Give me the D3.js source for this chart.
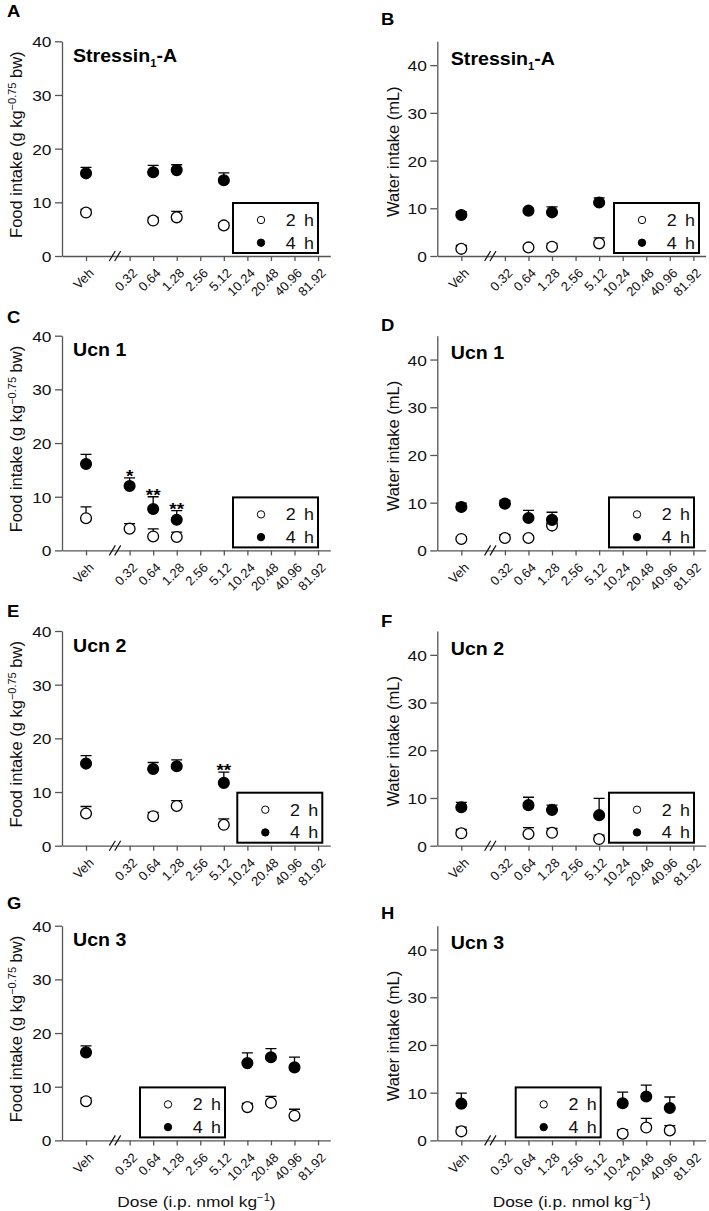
<!DOCTYPE html>
<html>
<head>
<meta charset="utf-8">
<script src="https://cdn.jsdelivr.net/npm/d3@7"></script>
<style>
  body { margin: 0; background: #fff; }
  svg  { display: block; font-family: "Liberation Sans", Arial, sans-serif; }
</style>
</head>
<body>
<div id="chart"></div>
<script>
// Dose axis (i.p. nmol/kg), same for every panel
const doseTicks = ["Veh","0.32","0.64","1.28","2.56","5.12","10.24","20.48","40.96","81.92"];
const yTicks = [0, 10, 20, 30, 40];

// Stressin1-A
const s1Doses       = ["Veh","0.64","1.28","5.12"];
const s1Food2h      = [8.1, 6.6, 7.2, 5.7];
const s1Food2hErr   = [0.6, 0.6, 1.1, 0.5];
const s1Food4h      = [15.4, 15.6, 16.0, 14.1];
const s1Food4hErr   = [1.1, 1.3, 1.0, 1.4];
const s1Water2h     = [1.5, 1.8, 1.95, 2.65];
const s1Water2hErr  = [0.7, 0.5, 0.7, 1.15];
const s1Water4h     = [8.6, 9.5, 9.15, 11.2];
const s1Water4hErr  = [0.7, 0.5, 1.15, 1.0];

// Ucn 1
const u1Doses       = ["Veh","0.32","0.64","1.28"];
const u1Food2h      = [6.0, 4.05, 2.6, 2.5];
const u1Food2hErr   = [2.1, 0.95, 1.4, 0.9];
const u1Food4h      = [16.1, 12.0, 7.7, 5.7];
const u1Food4hErr   = [1.8, 1.5, 2.3, 1.7];
const u1Food4hSig   = ["", "*", "**", "**"];
const u1Water2h     = [2.4, 2.6, 2.6, 5.2];
const u1Water2hErr  = [0.5, 0.7, 0.5, 0.6];
const u1Water4h     = [9.1, 9.8, 6.8, 6.4];
const u1Water4hErr  = [0.8, 0.7, 1.6, 1.6];

// Ucn 2
const u2Doses       = ["Veh","0.64","1.28","5.12"];
const u2Food2h      = [6.0, 5.5, 7.4, 3.9];
const u2Food2hErr   = [1.3, 0.7, 1.0, 1.1];
const u2Food4h      = [15.3, 14.3, 14.8, 11.7];
const u2Food4hErr   = [1.5, 1.2, 1.2, 2.0];
const u2Food4hSig   = ["", "", "", "**"];
const u2Water2h     = [2.6, 2.45, 2.7, 1.4];
const u2Water2hErr  = [0.8, 1.35, 0.9, 0.8];
const u2Water4h     = [8.05, 8.5, 7.5, 6.4];
const u2Water4hErr  = [1.05, 1.65, 1.0, 3.5];

// Ucn 3
const u3Doses       = ["Veh","10.24","20.48","40.96"];
const u3Food2h      = [7.3, 6.2, 7.0, 4.6];
const u3Food2hErr   = [0.6, 0.7, 1.2, 1.2];
const u3Food4h      = [16.4, 14.4, 15.5, 13.6];
const u3Food4hErr   = [1.2, 1.9, 1.6, 1.9];
const u3Water2h     = [1.9, 1.4, 2.7, 2.1];
const u3Water2hErr  = [0.9, 0.8, 1.9, 1.0];
const u3Water4h     = [7.7, 7.8, 9.2, 6.8];
const u3Water4hErr  = [2.2, 2.3, 2.4, 2.3];

const W = 709, H = 1211;
const COL_X = [62, 437.3];                 // y-axis position per column
const ROW_BOTTOM = [256, 550.4, 845.7, 1140.4];
const PLOT_W = 268.3, PLOT_H = 214.7;
const SX = 1.12;                            // the original type is a bit wide
const BREAK_POS = 1.23;
const AXIS_COL = "#555", TEXT_COL = "#111";

const panels = [
  {id:"A", col:0, row:0, measure:"food",  name:"Stressin1-A", doses:s1Doses, m2:s1Food2h,  e2:s1Food2hErr,  m4:s1Food4h,  e4:s1Food4hErr,  sig:null,        legendX:171,   letterY:17},
  {id:"B", col:1, row:0, measure:"water", name:"Stressin1-A", doses:s1Doses, m2:s1Water2h, e2:s1Water2hErr, m4:s1Water4h, e4:s1Water4hErr, sig:null,        legendX:176.7, letterY:25},
  {id:"C", col:0, row:1, measure:"food",  name:"Ucn 1",       doses:u1Doses, m2:u1Food2h,  e2:u1Food2hErr,  m4:u1Food4h,  e4:u1Food4hErr,  sig:u1Food4hSig, legendX:171,   letterY:323},
  {id:"D", col:1, row:1, measure:"water", name:"Ucn 1",       doses:u1Doses, m2:u1Water2h, e2:u1Water2hErr, m4:u1Water4h, e4:u1Water4hErr, sig:null,        legendX:171.7, letterY:331},
  {id:"E", col:0, row:2, measure:"food",  name:"Ucn 2",       doses:u2Doses, m2:u2Food2h,  e2:u2Food2hErr,  m4:u2Food4h,  e4:u2Food4hErr,  sig:u2Food4hSig, legendX:175.3, letterY:617},
  {id:"F", col:1, row:2, measure:"water", name:"Ucn 2",       doses:u2Doses, m2:u2Water2h, e2:u2Water2hErr, m4:u2Water4h, e4:u2Water4hErr, sig:null,        legendX:171.7, letterY:627},
  {id:"G", col:0, row:3, measure:"food",  name:"Ucn 3",       doses:u3Doses, m2:u3Food2h,  e2:u3Food2hErr,  m4:u3Food4h,  e4:u3Food4hErr,  sig:null,        legendX:78,    letterY:909},
  {id:"H", col:1, row:3, measure:"water", name:"Ucn 3",       doses:u3Doses, m2:u3Water2h, e2:u3Water2hErr, m4:u3Water4h, e4:u3Water4hErr, sig:null,        legendX:78.4,  letterY:919}
];

const svg = d3.select("#chart").append("svg").attr("width", W).attr("height", H).attr("viewBox", [0, 0, W, H]);

// Veh sits on its own, doses start after the axis break
const x = d3.scaleLinear().domain([-1.02, 10.37]).range([0, PLOT_W]);
function dosePos(i) { return i === 0 ? 0 : 0.85 + i; }

function styleAxis(sel) {
  sel.attr("font-family", null).attr("font-size", null);
  sel.selectAll(".domain, .tick line").attr("stroke", AXIS_COL).attr("stroke-width", 1.3);
  sel.selectAll(".tick text").attr("fill", TEXT_COL);
}

function wideText(parent, tx, ty, anchor) {
  return parent.append("text")
    .attr("transform", `translate(${tx},${ty}) scale(${SX},1)`)
    .attr("text-anchor", anchor)
    .attr("fill", TEXT_COL);
}

function drawPanel(p) {
  const ox = COL_X[p.col], y0 = ROW_BOTTOM[p.row];
  const g = svg.append("g").attr("transform", `translate(${ox},0)`);
  const y = d3.scaleLinear().domain([0, p.measure === "food" ? 40 : 45]).range([y0, y0 - PLOT_H]);

  // y axis
  const ya = g.append("g")
    .call(d3.axisLeft(y).tickValues(yTicks).tickSize(7).tickSizeOuter(0).tickPadding(3.5));
  styleAxis(ya);
  ya.selectAll(".tick text").attr("x", 0).attr("dy", "0.36em").attr("font-size", 15.5)
    .attr("transform", `translate(-10.5,0) scale(${SX},1)`);

  // x axis with rotated dose labels
  const xa = g.append("g").attr("transform", `translate(0,${y0})`)
    .call(d3.axisBottom(x).tickValues(doseTicks.map((d, i) => dosePos(i)))
      .tickFormat((d, i) => doseTicks[i]).tickSize(5).tickSizeOuter(0));
  styleAxis(xa);
  xa.selectAll(".tick text").attr("y", 0).attr("dy", 0).attr("font-size", 13)
    .attr("text-anchor", "end").attr("transform", "translate(8,18) rotate(-45)");

  // axis break
  const bx = x(BREAK_POS);
  [-2.7, 2.7].forEach(off => {
    g.append("line")
      .attr("x1", bx + off - 3).attr("y1", y0 + 5)
      .attr("x2", bx + off + 3).attr("y2", y0 - 5)
      .attr("stroke", TEXT_COL).attr("stroke-width", 1.2);
  });

  // y label
  const mid = y0 - PLOT_H / 2;
  if (p.measure === "food") {
    const t = g.append("text").attr("transform", `translate(-40,${mid - 4}) rotate(-90)`)
      .attr("text-anchor", "middle").attr("font-size", 16.5).attr("fill", TEXT_COL);
    t.append("tspan").text("Food intake (g kg");
    t.append("tspan").attr("font-size", 11).attr("dy", -6).text("\u22120.75");
    t.append("tspan").attr("dy", 6).text(" bw)");
  } else {
    g.append("text").attr("transform", `translate(-38.3,${mid + 3}) rotate(-90)`)
      .attr("text-anchor", "middle").attr("font-size", 16.5).attr("fill", TEXT_COL)
      .text("Water intake (mL)");
  }

  // 2 h (open) then 4 h (filled); whisker goes up only
  const series = [
    {m: p.m2, e: p.e2, fill: "#fff", sig: null},
    {m: p.m4, e: p.e4, fill: "#000", sig: p.sig}
  ];
  series.forEach(s => {
    const pts = p.doses.map((d, i) => ({cx: x(dosePos(doseTicks.indexOf(d))), m: s.m[i], e: s.e[i], sig: s.sig ? s.sig[i] : ""}));
    g.append("g").selectAll("path").data(pts).join("path")
      .attr("d", d => `M${d.cx},${y(d.m)}V${y(d.m + d.e)}M${d.cx - 5.5},${y(d.m + d.e)}H${d.cx + 5.5}`)
      .attr("fill", "none").attr("stroke", "#000").attr("stroke-width", 1.3);
    g.append("g").selectAll("circle").data(pts).join("circle")
      .attr("cx", d => d.cx).attr("cy", d => y(d.m)).attr("r", 5.4)
      .attr("fill", s.fill).attr("stroke", "#000").attr("stroke-width", 1.3);
    pts.filter(d => d.sig).forEach(d => {
      wideText(g, d.cx, y(d.m + d.e) + 4, "middle")
        .attr("font-size", 17).attr("font-weight", "bold").attr("fill", "#000").text(d.sig);
    });
  });

  // legend
  const lx = p.legendX, ly = y0 - 53;
  g.append("rect").attr("x", lx).attr("y", ly).attr("width", 85).attr("height", 50)
    .attr("fill", "#fff").attr("stroke", "#000").attr("stroke-width", 2);
  [["2 h", "#fff", 17, 23], ["4 h", "#000", 39.7, 45.5]].forEach(([lab, fill, cy, by]) => {
    g.append("circle").attr("cx", lx + 28).attr("cy", ly + cy).attr("r", 3.7)
      .attr("fill", fill).attr("stroke", "#000").attr("stroke-width", 1);
    wideText(g, lx + 81, ly + by, "end").attr("font-size", 16).style("word-spacing", "3px").text(lab);
  });

  // panel title
  const title = wideText(g, p.col === 0 ? 11 : 13.5, y0 - (p.col === 0 ? 194 : 191), "start")
    .attr("font-size", 17.5).attr("font-weight", "bold").attr("fill", "#000");
  if (p.name === "Stressin1-A") {
    title.append("tspan").text("Stressin");
    title.append("tspan").attr("font-size", 10).attr("dy", 5).text("1");
    title.append("tspan").attr("dy", -5).text("-A");
  } else {
    title.text(p.name);
  }

  // panel letter
  wideText(svg, p.col === 0 ? 7 : 381, p.letterY, "start")
    .attr("font-size", 16.5).attr("font-weight", "bold").attr("fill", "#000").text(p.id);

  // dose label under the bottom row
  if (p.row === 3) {
    const t = wideText(g, 134.5, 1207, "middle").attr("font-size", 15.5);
    t.append("tspan").text("Dose (i.p. nmol kg");
    t.append("tspan").attr("font-size", 10).attr("dy", -6).text("\u22121");
    t.append("tspan").attr("dy", 6).text(")");
  }
}

panels.forEach(drawPanel);
</script>
</body>
</html>
